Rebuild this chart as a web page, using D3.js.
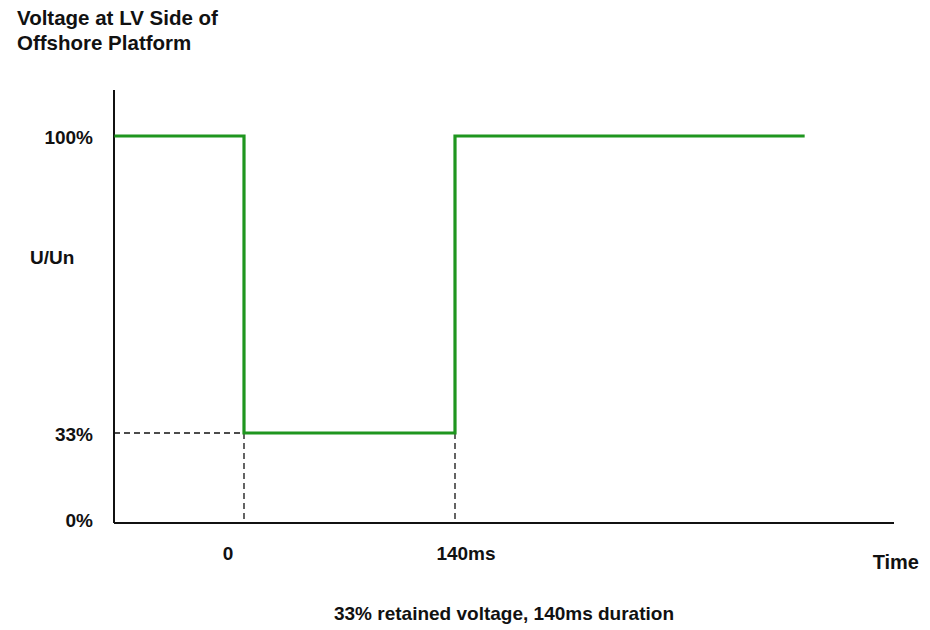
<!DOCTYPE html>
<html><head><meta charset="utf-8">
<script src="https://cdn.jsdelivr.net/npm/d3@7"></script>
<style>
body{margin:0;background:#fff;}
text{font-family:"Liberation Sans",Arial,sans-serif;font-weight:bold;fill:#111;}
</style></head>
<body><svg id="c" width="930" height="630"></svg>
<script>
// Data
const timeMs   = [-86, 0, 0, 140, 140, 372];
const voltage  = [100, 100, 33, 33, 100, 100];
const yTicks   = [100, 33, 0];
const yTickLabels = ["100%", "33%", "0%"];
const xTicks   = [0, 140];
const xTickLabels = ["0", "140ms"];
const titleLines = ["Voltage at LV Side of", "Offshore Platform"];
const caption = "33% retained voltage, 140ms duration";

const svg = d3.select("#c");
// schematic (piecewise) scales
const x = d3.scaleLinear().domain([0, 140]).range([244, 455]);
const y = d3.scaleLinear().domain([0, 33, 100]).range([523, 433, 136]);
const xMin = x.invert(114), xMax = x.invert(894);

// axes
svg.append("line").attr("x1", x(xMin)).attr("x2", x(xMin)).attr("y1", 90).attr("y2", y(0))
  .attr("stroke", "#111").attr("stroke-width", 2);
svg.append("line").attr("x1", x(xMin)).attr("x2", x(xMax)).attr("y1", y(0)).attr("y2", y(0))
  .attr("stroke", "#111").attr("stroke-width", 2);

// dashed guides
svg.append("line").attr("x1", x(xMin)).attr("x2", x(0)).attr("y1", y(33)).attr("y2", y(33))
  .attr("stroke", "#111").attr("stroke-width", 1.3).attr("stroke-dasharray", "6,4");
xTicks.forEach(t => {
  svg.append("line").attr("x1", x(t)).attr("x2", x(t)).attr("y1", y(33)).attr("y2", y(0))
    .attr("stroke", "#111").attr("stroke-width", 1.3).attr("stroke-dasharray", "6,4");
});

// series
const pts = timeMs.map((t, i) => [t, voltage[i]]);
svg.append("path").datum(pts)
  .attr("d", d3.line().x(d => x(d[0])).y(d => y(d[1])))
  .attr("fill", "none").attr("stroke", "#1f961f").attr("stroke-width", 3.2)
  .attr("stroke-linejoin", "miter");

// y tick labels
yTicks.forEach((v, i) => {
  svg.append("text").attr("x", 93).attr("y", y(v) - (v === 0 ? 4 : 0) + 1).attr("dy", "0.35em")
    .attr("text-anchor", "end").style("font-size", "19px").text(yTickLabels[i]);
});
svg.append("text").attr("x", 30).attr("y", 257).attr("dy", "0.35em")
  .style("font-size", "19px").text("U/Un");

// x tick labels
const xOff = [-16, 11];
xTicks.forEach((t, i) => {
  svg.append("text").attr("x", x(t) + xOff[i]).attr("y", 553).attr("dy", "0.35em")
    .attr("text-anchor", "middle").style("font-size", "19px").text(xTickLabels[i]);
});
svg.append("text").attr("x", 919).attr("y", 562).attr("dy", "0.35em")
  .attr("text-anchor", "end").style("font-size", "20px").text("Time");

// title
titleLines.forEach((l, i) => {
  svg.append("text").attr("x", 17).attr("y", 18 + i * 25).attr("dy", "0.35em")
    .style("font-size", "20.5px").text(l);
});
// caption
svg.append("text").attr("x", 504).attr("y", 613).attr("dy", "0.35em")
  .attr("text-anchor", "middle").style("font-size", "19px").text(caption);
</script></body></html>
